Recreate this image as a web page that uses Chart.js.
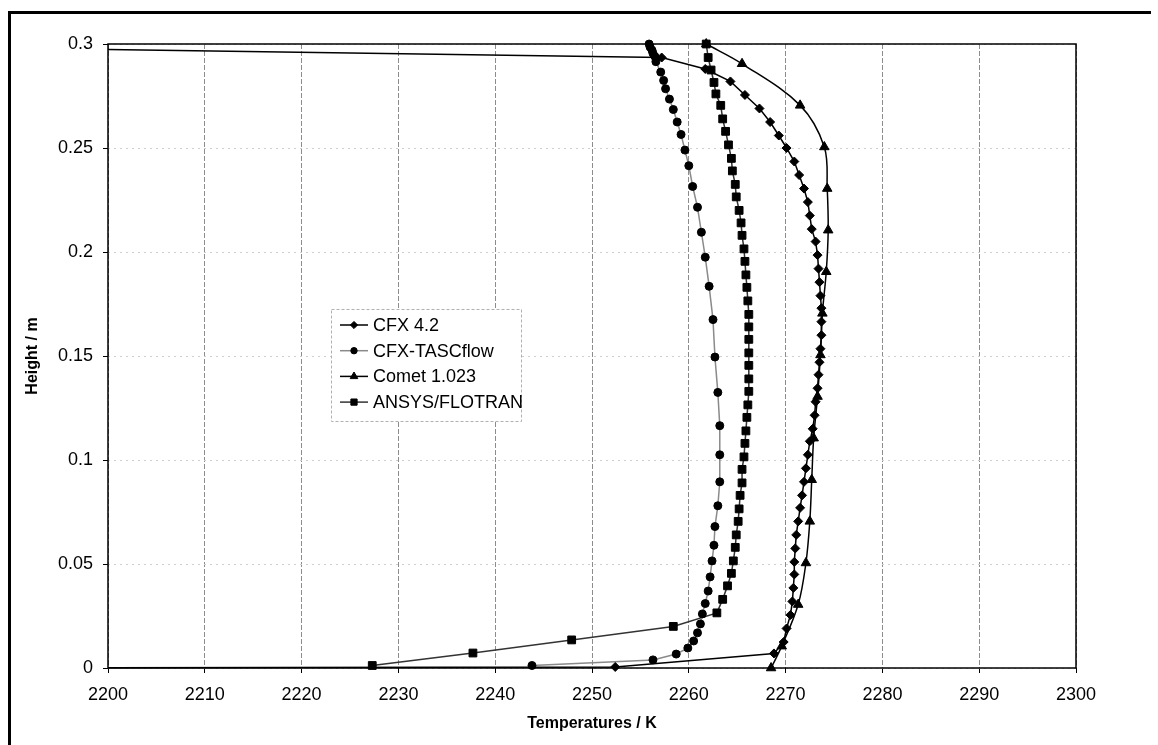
<!DOCTYPE html>
<html>
<head>
<meta charset="utf-8">
<script src="https://cdn.jsdelivr.net/npm/chart.js@4.4.1/dist/chart.umd.min.js"></script>
<style>
  html, body { margin: 0; padding: 0; background: #fff; }
  #wrap { position: relative; width: 1158px; height: 745px; }
  #frame { position: absolute; left: 8px; top: 11px; width: 1143px; height: 740px;
           border-left: 3px solid #000; border-top: 3px solid #000; box-sizing: border-box; }
  canvas { position: absolute; left: 0; top: 0; }
</style>
</head>
<body>
<div id="wrap">
  <div id="frame"></div>
  <canvas id="graphique" width="1158" height="745"></canvas>
</div>
<script>
// CFX 4.2 (diamonds)
var cfx42T = [2176, 2257.2, 2261.7, 2264.3, 2265.8, 2267.3, 2268.4, 2269.3, 2270.1, 2270.9, 2271.4, 2271.9, 2272.3, 2272.5, 2272.7, 2273.1, 2273.3, 2273.4, 2273.5, 2273.6, 2273.7, 2273.7, 2273.7, 2273.6, 2273.5, 2273.4, 2273.3, 2273.1, 2273.0, 2272.8, 2272.5, 2272.3, 2272.1, 2271.9, 2271.7, 2271.5, 2271.3, 2271.1, 2271.0, 2270.9, 2270.9, 2270.8, 2270.7, 2270.5, 2270.1, 2269.8, 2268.8, 2252.4, 2176];
var cfx42H = [0.299, 0.2935, 0.288, 0.282, 0.2755, 0.269, 0.2625, 0.256, 0.25, 0.2435, 0.237, 0.2305, 0.224, 0.2175, 0.211, 0.205, 0.1985, 0.192, 0.1855, 0.179, 0.173, 0.1665, 0.16, 0.1535, 0.147, 0.141, 0.1345, 0.128, 0.1215, 0.115, 0.109, 0.1025, 0.096, 0.0895, 0.083, 0.077, 0.0705, 0.064, 0.0575, 0.051, 0.045, 0.0385, 0.032, 0.0255, 0.019, 0.0125, 0.007, 0.0005, 0];

// CFX-TASCflow (circles)
var tascT = [2255.9, 2256.0, 2256.2, 2256.3, 2256.5, 2256.6, 2257.1, 2257.4, 2257.6, 2258.0, 2258.4, 2258.8, 2259.2, 2259.6, 2260.0, 2260.4, 2260.9, 2261.3, 2261.7, 2262.1, 2262.5, 2262.7, 2263.0, 2263.2, 2263.2, 2263.2, 2263.0, 2262.7, 2262.6, 2262.4, 2262.2, 2262.0, 2261.7, 2261.4, 2261.2, 2260.9, 2260.5, 2259.9, 2258.7, 2256.3, 2243.8];
var tascH = [0.3, 0.2985, 0.297, 0.2955, 0.294, 0.2915, 0.2865, 0.2825, 0.2785, 0.2735, 0.2685, 0.2625, 0.2565, 0.249, 0.2415, 0.2315, 0.2215, 0.2095, 0.1975, 0.1835, 0.1675, 0.1495, 0.1325, 0.1165, 0.1025, 0.0895, 0.078, 0.068, 0.059, 0.0515, 0.0438, 0.037, 0.031, 0.026, 0.0212, 0.0169, 0.013, 0.0096, 0.0067, 0.0039, 0.0012];

// Comet 1.023 (triangles)
var cometT = [2261.8, 2265.5, 2271.5, 2274.0, 2274.3, 2274.4, 2274.2, 2273.8, 2273.6, 2273.3, 2272.9, 2272.7, 2272.5, 2272.1, 2271.3, 2269.6, 2268.5];
var cometH = [0.3, 0.2905, 0.2705, 0.2505, 0.2305, 0.2105, 0.1905, 0.1705, 0.1505, 0.1305, 0.1105, 0.0905, 0.0705, 0.0505, 0.0305, 0.0105, 0];

// ANSYS/FLOTRAN (squares)
var ansysT = [2261.8, 2262.0, 2262.3, 2262.6, 2262.8, 2263.3, 2263.5, 2263.8, 2264.1, 2264.4, 2264.5, 2264.8, 2264.9, 2265.2, 2265.4, 2265.5, 2265.7, 2265.8, 2265.9, 2266.0, 2266.1, 2266.2, 2266.2, 2266.2, 2266.2, 2266.2, 2266.2, 2266.2, 2266.1, 2266.0, 2265.9, 2265.8, 2265.7, 2265.5, 2265.5, 2265.3, 2265.2, 2265.1, 2264.9, 2264.8, 2264.6, 2264.4, 2264.0, 2263.5, 2262.9, 2258.4, 2247.9, 2237.7, 2227.3];
var ansysH = [0.3, 0.2935, 0.2875, 0.2815, 0.276, 0.2705, 0.264, 0.258, 0.2515, 0.245, 0.239, 0.2325, 0.2265, 0.22, 0.214, 0.208, 0.2015, 0.1955, 0.189, 0.183, 0.1765, 0.17, 0.164, 0.158, 0.1515, 0.1455, 0.139, 0.133, 0.1265, 0.1205, 0.114, 0.108, 0.1015, 0.0955, 0.089, 0.083, 0.0765, 0.0705, 0.064, 0.058, 0.0515, 0.0455, 0.0395, 0.033, 0.0265, 0.02, 0.0135, 0.0072, 0.0012];

var seriesNames = ['CFX 4.2', 'CFX-TASCflow', 'Comet 1.023', 'ANSYS/FLOTRAN'];

function points(T, H) {
    return T.map((value, index) => ({ x: value, y: H[index] }));
}

var clipArea = { left: 0, top: 8, right: 0, bottom: 8 };

var datasets = [
    { label: seriesNames[0], data: points(cfx42T, cfx42H), borderColor: '#000', backgroundColor: '#000',
      pointStyle: 'rectRot', pointRadius: 4.5 },
    { label: seriesNames[1], data: points(tascT, tascH), borderColor: '#8a8a8a', backgroundColor: '#000',
      pointStyle: 'circle', pointRadius: 4 },
    { label: seriesNames[2], data: points(cometT, cometH), borderColor: '#000', backgroundColor: '#000',
      pointStyle: 'triangle', pointRadius: 5.5, tension: 0.35 },
    { label: seriesNames[3], data: points(ansysT, ansysH), borderColor: '#333', backgroundColor: '#000',
      pointStyle: 'rect', pointRadius: 5.5 }
];
datasets.forEach((d) => {
    d.showLine = true;
    d.borderWidth = 1.5;
    d.pointBorderColor = '#000';
    d.pointBorderWidth = 1;
    d.clip = clipArea;
});

// black frame round the plot area
var framePlugin = {
    id: 'frame',
    beforeDatasetsDraw(chart) {
        var a = chart.chartArea, ctx = chart.ctx;
        ctx.save();
        ctx.strokeStyle = '#000';
        ctx.lineWidth = 1.5;
        ctx.strokeRect(a.left, a.top, a.right - a.left, a.bottom - a.top);
        ctx.restore();
    }
};

// legend box inside the plot, as in the original
var legendPlugin = {
    id: 'insideLegend',
    afterDatasetsDraw(chart) {
        var ctx = chart.ctx;
        ctx.save();
        ctx.fillStyle = '#fff';
        ctx.fillRect(331, 309, 190, 112);
        ctx.strokeStyle = '#b0b0b0';
        ctx.lineWidth = 1;
        ctx.setLineDash([3, 2]);
        ctx.strokeRect(331.5, 309.5, 190, 112);
        ctx.setLineDash([]);
        chart.data.datasets.forEach((d, i) => {
            var y = 325 + i * 25.7;
            ctx.strokeStyle = d.borderColor;
            ctx.lineWidth = 1.5;
            ctx.beginPath();
            ctx.moveTo(340, y);
            ctx.lineTo(368, y);
            ctx.stroke();
            ctx.fillStyle = '#000';
            ctx.strokeStyle = '#000';
            ctx.lineWidth = 1;
            Chart.helpers.drawPoint(ctx, { pointStyle: d.pointStyle, radius: d.pointRadius * 0.8, rotation: 0, borderWidth: 1 }, 354, y);
            ctx.fillStyle = '#000';
            ctx.font = '18px Arial, "Liberation Sans", sans-serif';
            ctx.textBaseline = 'middle';
            ctx.fillText(d.label, 373, y + 1);
        });
        ctx.restore();
    }
};

var ctx = document.getElementById('graphique').getContext('2d');
var graphique = new Chart(ctx, {
    type: 'scatter',
    data: { datasets: datasets },
    plugins: [framePlugin, legendPlugin],
    options: {
        responsive: false,
        animation: false,
        devicePixelRatio: 1,
        layout: { padding: { left: 14, top: 44, right: 82, bottom: 0 } },
        plugins: {
            legend: { display: false },
            tooltip: { enabled: false }
        },
        scales: {
            x: {
                type: 'linear',
                min: 2200,
                max: 2300,
                afterFit: (s) => { s.height = 77; },
                ticks: {
                    stepSize: 10,
                    color: '#000',
                    padding: 11,
                    font: { family: 'Arial, "Liberation Sans", sans-serif', size: 18 },
                    callback: (v) => String(v)
                },
                grid: { color: '#8c8c8c', lineWidth: 1, tickColor: '#000', tickLength: 5 },
                border: { display: false, dash: [5, 2] },
                title: {
                    display: true,
                    text: 'Temperatures / K',
                    color: '#000',
                    font: { family: 'Arial, "Liberation Sans", sans-serif', size: 16, weight: 'bold' },
                    padding: { top: 0, bottom: 12 }
                }
            },
            y: {
                type: 'linear',
                min: 0,
                max: 0.3,
                afterFit: (s) => { s.width = 94; },
                ticks: {
                    stepSize: 0.05,
                    color: '#000',
                    padding: 10,
                    font: { family: 'Arial, "Liberation Sans", sans-serif', size: 18 },
                    callback: (v) => String(+v.toFixed(2))
                },
                grid: { color: '#cfcfcf', lineWidth: 1, tickColor: '#000', tickLength: 5 },
                border: { display: false, dash: [2, 4] },
                title: {
                    display: true,
                    text: 'Height / m',
                    color: '#000',
                    font: { family: 'Arial, "Liberation Sans", sans-serif', size: 16, weight: 'bold' },
                    padding: { top: 9, bottom: 0 }
                }
            }
        }
    }
});
</script>
</body>
</html>
